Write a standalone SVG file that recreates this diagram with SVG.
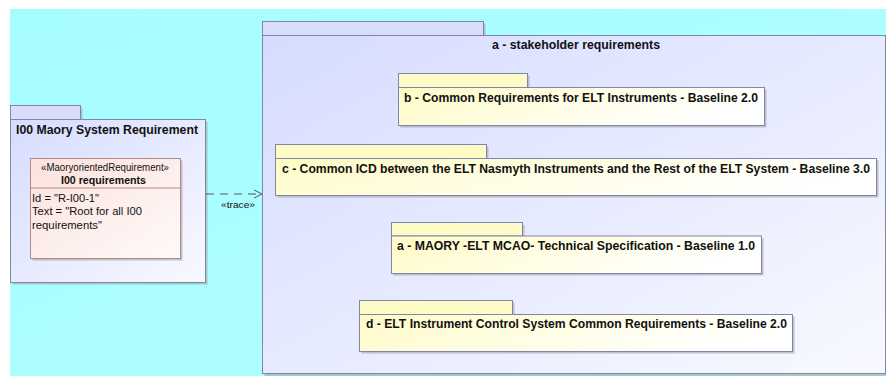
<svg xmlns="http://www.w3.org/2000/svg" width="886" height="376" viewBox="0 0 886 376">
<defs>
<linearGradient id="gPkg" x1="0" y1="0" x2="1" y2="1"><stop offset="0" stop-color="#d6dcff"/><stop offset="1" stop-color="#f8f9ff"/></linearGradient>
<linearGradient id="gYel" x1="0" y1="0" x2="1" y2="0.3"><stop offset="0" stop-color="#fffbc6"/><stop offset="1" stop-color="#ffffff"/></linearGradient>
<linearGradient id="gCls" x1="0" y1="0" x2="1" y2="1"><stop offset="0" stop-color="#fbe2dc"/><stop offset="1" stop-color="#fffafa"/></linearGradient>
<linearGradient id="gBg" x1="0" y1="0" x2="1" y2="1"><stop offset="0" stop-color="#a6fdff"/><stop offset="1" stop-color="#b2ffff"/></linearGradient>
<marker id="open" markerWidth="10" markerHeight="10" refX="9" refY="5" orient="auto" markerUnits="userSpaceOnUse"><path d="M1,1 L9,5 L1,9" fill="none" stroke="#555" stroke-width="1"/></marker>
</defs>
<style>
.shadow{fill:#9a9a9a;opacity:0.55}
.pkg{fill:url(#gPkg);stroke:#7f86a8;stroke-width:1}
.tab{fill:#d9ddfb;stroke:#7f86a8;stroke-width:1}
.ytab{fill:#fffbc6;stroke:#7f86a8;stroke-width:1}
.ypkg{fill:url(#gYel);stroke:#7f86a8;stroke-width:1}
.cls{fill:url(#gCls);stroke:#b58a86;stroke-width:1}
.t{font-family:"Liberation Sans",Arial,sans-serif;fill:#111}
.b{font-weight:bold;font-size:12px}
.r{font-size:11.5px}
</style>
<rect x="0" y="0" width="886" height="376" fill="#ffffff"/>
<rect x="10" y="9" width="876" height="367" fill="url(#gBg)"/>

<g id="pkg-I00">
<rect class="shadow" x="12.5" y="107.5" width="70" height="14"/>
<rect class="shadow" x="12.5" y="121.5" width="195" height="163"/>
<rect class="tab" x="10.5" y="105.5" width="70" height="14"/>
<rect class="pkg" x="10.5" y="119.5" width="195" height="163"/>
<text class="t b" x="16" y="134" textLength="182" lengthAdjust="spacingAndGlyphs">I00 Maory System Requirement</text>
</g>

<g id="cls-I00req">
<rect class="shadow" x="32.5" y="160.5" width="150" height="100"/>
<rect class="cls" x="30.5" y="158.5" width="150" height="100"/>
<line x1="30.5" y1="188" x2="180.5" y2="188" stroke="#b58a86" stroke-width="1"/>
<text class="t" x="105" y="171" font-size="10" text-anchor="middle" textLength="128" lengthAdjust="spacingAndGlyphs">«MaoryorientedRequirement»</text>
<text class="t" x="103.5" y="184" font-size="10.5" font-weight="bold" text-anchor="middle" textLength="85" lengthAdjust="spacingAndGlyphs">I00 requirements</text>
<text class="t r" x="32" y="201.5" textLength="67" lengthAdjust="spacingAndGlyphs">Id = "R-I00-1"</text>
<text class="t r" x="32" y="215" textLength="110" lengthAdjust="spacingAndGlyphs">Text = "Root for all I00</text>
<text class="t r" x="32" y="228.5" textLength="70" lengthAdjust="spacingAndGlyphs">requirements"</text>
</g>

<g id="pkg-stakeholder">
<rect class="shadow" x="264.5" y="23.5" width="221" height="14"/>
<rect class="shadow" x="264.5" y="37.5" width="623" height="339"/>
<rect class="tab" x="262.5" y="21.5" width="221" height="14"/>
<rect class="pkg" x="262.5" y="35.5" width="623" height="338"/>
<text class="t b" x="576" y="49" text-anchor="middle" textLength="168" lengthAdjust="spacingAndGlyphs">a - stakeholder requirements</text>
</g>

<g id="pkg-b">
<rect class="shadow" x="400.5" y="75.5" width="129" height="14"/>
<rect class="shadow" x="400.5" y="89.5" width="366" height="38"/>
<rect class="ytab" x="398.5" y="73.5" width="129" height="14"/>
<rect class="ypkg" x="398.5" y="87.5" width="366" height="38"/>
<text class="t b" x="404" y="102" textLength="354" lengthAdjust="spacingAndGlyphs">b - Common Requirements for ELT Instruments - Baseline 2.0</text>
</g>

<g id="pkg-c">
<rect class="shadow" x="277.5" y="146.5" width="211" height="14"/>
<rect class="shadow" x="277.5" y="160.5" width="601" height="37"/>
<rect class="ytab" x="275.5" y="144.5" width="211" height="14"/>
<rect class="ypkg" x="275.5" y="158.5" width="601" height="37"/>
<text class="t b" x="282" y="173" textLength="588" lengthAdjust="spacingAndGlyphs">c - Common ICD between the ELT Nasmyth Instruments and the Rest of the ELT System - Baseline 3.0</text>
</g>

<g id="pkg-a-maory">
<rect class="shadow" x="393.5" y="225" width="131" height="13"/>
<rect class="shadow" x="393.5" y="238.5" width="370" height="37"/>
<rect class="ytab" x="391.5" y="222.5" width="131" height="13.5"/>
<rect class="ypkg" x="391.5" y="236" width="370" height="37.5"/>
<text class="t b" x="397" y="250" textLength="358" lengthAdjust="spacingAndGlyphs">a - MAORY -ELT MCAO- Technical Specification - Baseline 1.0</text>
</g>

<g id="pkg-d">
<rect class="shadow" x="361.5" y="302.5" width="153" height="14"/>
<rect class="shadow" x="361.5" y="316.5" width="433" height="37"/>
<rect class="ytab" x="359.5" y="300.5" width="153" height="14"/>
<rect class="ypkg" x="359.5" y="314.5" width="433" height="37"/>
<text class="t b" x="366" y="328" textLength="421" lengthAdjust="spacingAndGlyphs">d - ELT Instrument Control System Common Requirements - Baseline 2.0</text>
</g>

<g id="connectors">
<line x1="206" y1="194" x2="262" y2="194" stroke="#555" stroke-width="1" stroke-dasharray="8,6" marker-end="url(#open)"/>
<text class="t" x="238" y="208" font-size="9" text-anchor="middle" fill="#333" textLength="34" lengthAdjust="spacingAndGlyphs">«trace»</text>
</g>
</svg>
